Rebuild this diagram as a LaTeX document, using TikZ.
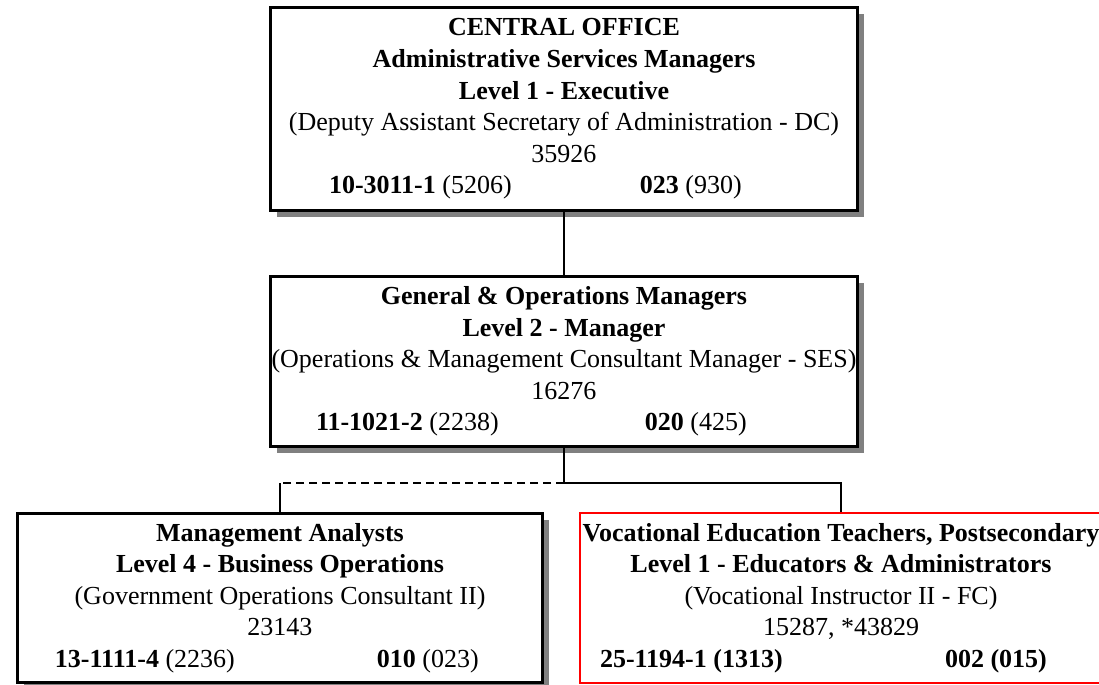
\documentclass[tikz,border=0pt]{standalone}
\usepackage{fontspec}
\setmainfont{Liberation Serif}
\usetikzlibrary{positioning, shadows}
% last line of a box: code and series at two tab stops
\newcommand{\codes}[5]{\makebox[#1][l]{\hspace*{#2}\rlap{#4}\hspace*{\dimexpr#3-#2\relax}#5}}

\begin{document}
\begin{tikzpicture}[
        orgbox/.style={rectangle, draw, line width=1.5pt, fill=white, inner xsep=0pt, inner ysep=0pt, align=center,
            font=\fontsize{13pt}{15.8pt}\selectfont,
            drop shadow={shadow xshift=3pt, shadow yshift=-3pt, fill=black!50, opacity=1}},
        redbox/.style={rectangle, draw=red, line width=1pt, fill=white, inner xsep=0pt, inner ysep=0pt, align=center,
            font=\fontsize{13pt}{15.8pt}\selectfont},
        link/.style={line width=1.4pt}]

        \useasboundingbox (0,0) rectangle (549.5pt,-342.5pt);

        \node[orgbox, minimum width=293.5pt, minimum height=101.5pt] (exec) at (282pt,-54.5pt)
            {\textbf{CENTRAL OFFICE}\\ \textbf{Administrative Services Managers}\\ \textbf{Level 1 - Executive}\\
             (Deputy Assistant Secretary of Administration - DC)\\ 35926\\
             \codes{293.5pt}{29.25pt}{184.75pt}{\textbf{10-3011-1} (5206)}{\textbf{023} (930)}};
        \node[orgbox, minimum width=293.5pt, minimum height=85pt, below=31.5pt of exec] (mgr)
            {\textbf{General \& Operations Managers}\\ \textbf{Level 2 - Manager}\\
             (Operations \& Management Consultant Manager - SES)\\ 16276\\
             \codes{293.5pt}{22.75pt}{187.25pt}{\textbf{11-1021-2} (2238)}{\textbf{020} (425)}};
        \node[orgbox, minimum width=262.5pt, minimum height=84.5pt, below=32pt of mgr.south, xshift=-142pt] (analyst)
            {\textbf{Management Analysts}\\ \textbf{Level 4 - Business Operations}\\
             (Government Operations Consultant II)\\ 23143\\
             \codes{262.5pt}{18.75pt}{179.75pt}{\textbf{13-1111-4} (2236)}{\textbf{010} (023)}};
        \node[redbox, minimum width=261pt, minimum height=85pt, below=32pt of mgr.south, xshift=138.5pt] (teacher)
            {\textbf{Vocational Education Teachers, Postsecondary}\\ \textbf{Level 1 - Educators \& Administrators}\\
             (Vocational Instructor II - FC)\\ 15287, *43829\\
             \codes{261pt}{10pt}{182.5pt}{\textbf{25-1194-1 (1313)}}{\textbf{002 (015)}}};

        \coordinate[below=17.5pt of mgr.south] (split);
        \coordinate (lcorner) at (split -| analyst.north);

        \draw[link] (exec) -- (mgr);
        \draw[link] (mgr) -- (split);
        \draw[link, dash pattern=on 4pt off 2.5pt] (split) -- (lcorner);
        \draw[link] (lcorner) -- (analyst.north);
        \draw[link] (split) -| (teacher.north);
    \end{tikzpicture}
\end{document}
